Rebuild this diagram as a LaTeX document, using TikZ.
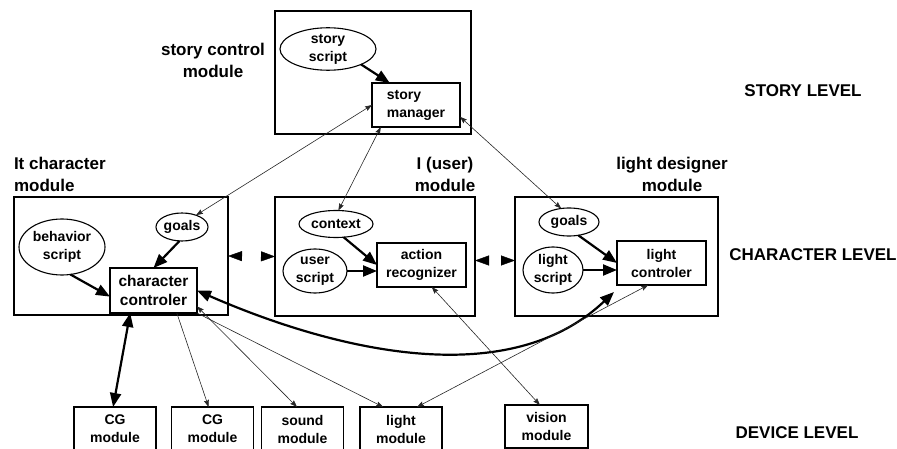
\documentclass[tikz,border=0pt]{standalone}
\usepackage{fontspec}
\setmainfont{Liberation Sans}
\usetikzlibrary{arrows.meta,calc,shapes.geometric}
\begin{document}
\begin{tikzpicture}[x=1pt,y=-1pt,
  every node/.style={inner sep=0pt, outer sep=0pt},
  inner/.style={font=\bfseries\fontsize{14}{18}\selectfont},
  modbox/.style={draw, line width=1.1pt, rectangle},
  rbox/.style={draw, line width=1.1pt, rectangle, inner, align=center},
  oval/.style={draw, line width=1.1pt, ellipse, inner, align=center},
  devbox/.style={draw, line width=1.1pt, rectangle, inner, align=center,
    anchor=north, minimum width=82pt, minimum height=44pt},
  modlabel/.style={font=\bfseries\fontsize{17}{22}\selectfont},
  levlabel/.style={font=\bfseries\fontsize{17}{20}\selectfont},
  bigtip/.tip={Triangle[length=14pt,width=11pt]},
  smalltip/.tip={Stealth[length=7pt,width=5pt,inset=1pt]},
  thickarrow/.style={line width=2.2pt, -bigtip},
  thickboth/.style={line width=2.2pt, bigtip-bigtip},
  thinarrow/.style={line width=0.6pt, black!85, -smalltip},
  thinboth/.style={line width=0.6pt, black!85, smalltip-smalltip},
  headsonly/.style={draw=white, {Triangle[black,length=14pt,width=10pt]}-{Triangle[black,length=14pt,width=10pt]}}
]
\clip (0,0) rectangle (897,449);

% ---- story level ----
\node[modbox, minimum width=196pt, minimum height=123pt] (scm) at (373,72.5) {};
\node[oval, minimum width=96pt, minimum height=42pt] (sscript) at (328,49) {story\\script};
\node[rbox, align=left, minimum width=88pt, minimum height=44pt] (sman) at (416,105) {story\\manager};
\node[modlabel, align=center] (scmlabel) at (213,60) {story control\\module};

% ---- character level: It ----
\node[modbox, minimum width=214pt, minimum height=118pt] (cmod) at (121,256) {};
\node[modlabel, align=left, anchor=west] (cmlabel) at (14,174) {It character\\module};
\node[oval, minimum width=86pt, minimum height=56pt] (bscript) at (62,247) {behavior\\script};
\node[oval, minimum width=52pt, minimum height=28pt] (cgoals) at (182,227) {goals};
\node[rbox, minimum width=87pt, minimum height=45pt,
  font=\bfseries\fontsize{15.5}{19}\selectfont] (ccon) at (153.5,290.5) {character\\controler};

% ---- character level: I (user) ----
\node[modbox, minimum width=200pt, minimum height=119pt] (umod) at (375,256.5) {};
\node[modlabel, align=center] (umlabel) at (445,174) {I (user)\\module};
\node[oval, minimum width=74pt, minimum height=27pt] (ctx) at (336,224) {context};
\node[oval, minimum width=64pt, minimum height=44pt] (uscript) at (315,271) {user\\script};
\node[rbox, minimum width=89pt, minimum height=44pt] (arec) at (421.5,265) {action\\recognizer};

% ---- character level: light designer ----
\node[modbox, minimum width=203pt, minimum height=119pt] (ldmod) at (616.5,256.5) {};
\node[modlabel, align=center] (ldlabel) at (672,174) {light designer\\module};
\node[oval, minimum width=60pt, minimum height=28pt] (lgoals) at (569,222) {goals};
\node[oval, minimum width=60pt, minimum height=46pt] (lscript) at (553,270) {light\\script};
\node[rbox, minimum width=89pt, minimum height=44pt] (lcon) at (661.5,263) {light\\controler};

% ---- device level ----
\node[devbox] (cg1) at (115,407) {CG\\module};
\node[devbox] (cg2) at (212.5,407) {CG\\module};
\node[devbox] (smod) at (302.5,407) {sound\\module};
\node[devbox] (lmod) at (401,407) {light\\module};
\node[devbox, minimum width=83pt, minimum height=43pt] (vmod) at (546.5,405) {vision\\module};

% ---- level captions ----
\node[levlabel] (slev) at (803,91) {STORY LEVEL};
\node[levlabel] (clev) at (813,255) {CHARACTER LEVEL};
\node[levlabel] (dlev) at (797,433) {DEVICE LEVEL};

% ---- links inside modules ----
\draw[thickarrow] (sscript.-25) -- (sman.140);
\draw[thickarrow] (cgoals.-100) -- (ccon.north);
\draw[thickarrow] (bscript.-73) -- (ccon.188);
\draw[thickarrow] (ctx.-60) -- (arec.west);
\draw[thickarrow] (uscript.east) -- (uscript.east -| arec.west);
\draw[thickarrow] (lgoals.-55) -- (lcon.west);
\draw[thickarrow] (lscript.east) -- (lscript.east -| lcon.west);

% ---- links between modules ----
\path[headsonly] (cmod.east) -- (umod.west);
\path[headsonly] ($(umod.east)+(0,4)$) -- ($(ldmod.west)+(0,4)$);
\draw[thinboth] (sman.west) -- (cgoals.40);
\draw[thinboth] (sman.-148) -- (ctx.80);
\draw[thinboth] (sman.-15) -- (lgoals.120);
\draw[thickboth] (ccon.east) .. controls (310,340) and (500,400) .. ($(lcon.south west)+(-3,7)$);

% ---- links to devices ----
\draw[thickboth] (ccon.-136) -- (cg1.95);
\draw[thinarrow] (ccon.-44) -- (cg2.100);
\draw[thinboth] (ccon.-20) -- (smod.104);
\draw[thinarrow] (ccon.south east) -- (lmod.129);
\draw[thinboth] (lcon.-121) -- (lmod.54);
\draw[thinboth] (arec.-65) -- (vmod.107);
\end{tikzpicture}
\end{document}
